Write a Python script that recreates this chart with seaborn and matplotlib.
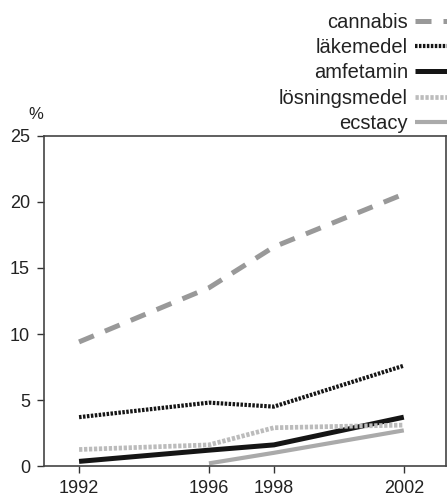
import pandas as pd
import seaborn as sns
import matplotlib.pyplot as plt

years = [1992, 1996, 1998, 2002]
cannabis = [9.4, 13.5, 16.6, 20.6]
lakemedel = [3.7, 4.8, 4.5, 7.6]
amfetamin = [0.35, 1.2, 1.6, 3.7]
losningsmedel = [1.25, 1.6, 2.9, 3.1]
ecstacy_years = [1996, 1998, 2002]
ecstacy = [0.2, 1.0, 2.7]

sns.set_theme(style="white")
plt.rcParams["font.family"] = ["Liberation Sans", "DejaVu Sans"]

fig = plt.figure(figsize=(4.47, 4.99), dpi=100)
ax = fig.add_axes([0.0984, 0.0661, 0.8994, 0.6614])

# name, x, y, colour, width, dashes (in line widths)
series = [
    ("cannabis", years, cannabis, "#999999", 3.6, (3.2, 2.4)),
    ("läkemedel", years, lakemedel, "#151515", 3.0, (0.6, 0.35)),
    ("amfetamin", years, amfetamin, "#151515", 3.6, None),
    ("lösningsmedel", years, losningsmedel, "#bcbcbc", 3.4, (0.7, 0.35)),
    ("ecstacy", ecstacy_years, ecstacy, "#aaaaaa", 3.0, None),
]

for name, x, y, col, lw, dash in series:
    df = pd.DataFrame({"år": x, "procent": y})
    sns.lineplot(data=df, x="år", y="procent", ax=ax, color=col, lw=lw, label=name)
    line = ax.lines[-1]
    if dash:
        line.set_dashes(dash)
    line.set_solid_capstyle("butt")
    line.set_dash_capstyle("butt")

ax.set_xlim(1990.92, 2003.3)
ax.set_ylim(0, 25)
ax.set_xticks(years)
ax.set_yticks([0, 5, 10, 15, 20, 25])
ax.set_xlabel("")
ax.set_ylabel("")
ax.tick_params(axis="both", direction="out", length=5, width=1, color="#333333",
               labelsize=13, labelcolor="#222222", bottom=True, left=True, pad=5)
for sp in ax.spines.values():
    sp.set_color("#444444")
    sp.set_linewidth(1.2)

fig.text(0.08, 0.755, "%", fontsize=12, color="#222222", ha="center", va="bottom")

handles, labels = ax.get_legend_handles_labels()
ax.legend_.remove()
fig.legend(handles, labels, loc="upper right", bbox_to_anchor=(1.032, 0.974),
           bbox_transform=fig.transFigure, frameon=False, markerfirst=False,
           fontsize=14.5, labelspacing=0.31, handlelength=2.3, handletextpad=0.35,
           borderpad=0, borderaxespad=0, labelcolor="#222222")

fig.savefig("out.png", dpi=100)
